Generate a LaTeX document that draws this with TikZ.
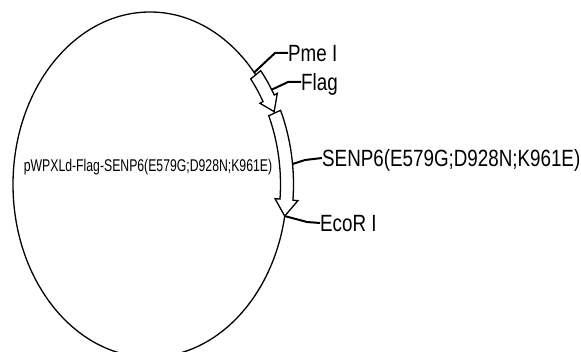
\documentclass[tikz,border=0pt]{standalone}
\usepackage{fontspec}
\newfontfamily\mapfont{Liberation Sans}[FakeStretch=0.8]
\newfontfamily\namefont{Liberation Sans}[FakeStretch=0.72]

% block arrow along the backbone: start angle, head base, tip, head half width
\newcommand\featarrow[4]{%
  \filldraw[feature] (#1:{\rx+\bw} and {\ry+\bw})
    arc[start angle=#1, end angle=#2, x radius=\rx+\bw, y radius=\ry+\bw]
    -- (#2:{\rx+#4} and {\ry+#4}) -- (#3:{\rx} and {\ry})
    -- (#2:{\rx-#4} and {\ry-#4}) -- (#2:{\rx-\bw} and {\ry-\bw})
    arc[start angle=#2, end angle=#1, x radius=\rx-\bw, y radius=\ry-\bw]
    -- cycle;}

\begin{document}
\begin{tikzpicture}[
  x=1pt, y=1pt,
  backbone/.style={line width=1.3pt},
  feature/.style={draw, line width=1.3pt, fill=white, line join=miter},
  leader/.style={line width=2pt},
  site/.style={anchor=west, inner sep=0pt, text height=16.8pt, text depth=0pt,
    font=\mapfont\fontsize{23.5}{26}\selectfont}
]
  \def\rx{137}
  \def\ry{172.6}
  \def\bw{6.5}
  \useasboundingbox (0,0) rectangle (581,351);
  \clip (0,0) rectangle (581,351);

  \begin{scope}[shift={(150,166.4)}]
    % plasmid backbone
    \draw[backbone] (0,0) ellipse [x radius=\rx, y radius=\ry];
    % features
    \featarrow{39.5}{30}{25}{10}
    \featarrow{24.5}{-5}{-10.5}{11.5}
    % sites on the map
    \coordinate (pme) at (40.5:{\rx} and {\ry});
    \coordinate (flag) at (32:{\rx+\bw} and {\ry+\bw});
    \coordinate (senp) at (6.6:{\rx+\bw} and {\ry+\bw});
    \coordinate (eco) at (-10.5:{\rx} and {\ry});
  \end{scope}

  \node[font=\namefont\fontsize{17}{20}\selectfont, inner sep=0pt] (name)
    at (148,184) {pWPXLd-Flag-SENP6(E579G;D928N;K961E)};

  \node[site] (pmeL) at (288,298) {Pme I};
  \node[site] (flagL) at (301,269) {Flag};
  \node[site] (senpL) at (322,193) {SENP6(E579G;D928N;K961E)};
  \node[site] (ecoL) at (320,128) {EcoR I};

  \coordinate (pmeK) at (275,298);
  \coordinate (flagK) at (288,269);
  \coordinate (senpK) at (305,191);
  \coordinate (ecoK) at (307,129);

  \draw[leader] (pme) -- (pmeK) -- (pmeL.west);
  \draw[leader] (flag) -- (flagK) -- (flagL.west);
  \draw[leader] (senp) -- (senpK) -- (senpL.west);
  \draw[leader] (eco) -- (ecoK) -- (ecoL.west);
\end{tikzpicture}
\end{document}
